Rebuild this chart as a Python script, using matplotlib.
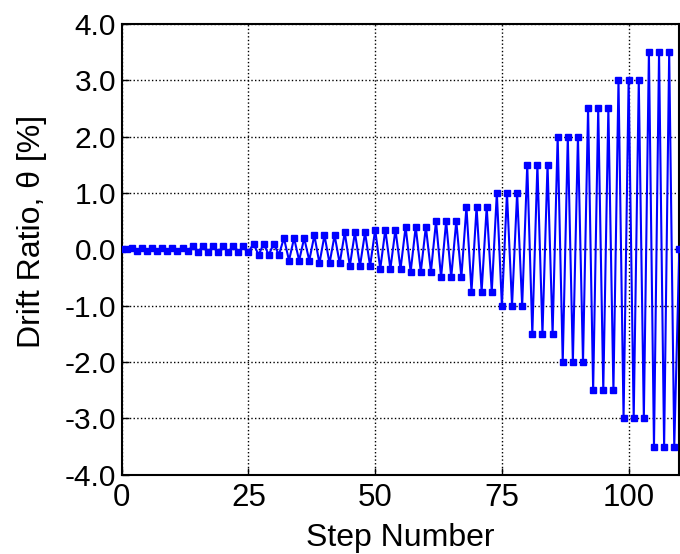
import matplotlib
matplotlib.use("Agg")
import matplotlib.pyplot as plt
import numpy as np

BLUE = "#0000FF"

# drift ratio (%) at each load step (steps 0..110)
drift = [
    0.0, 0.0,
    0.025, -0.025, 0.025, -0.025, 0.025, -0.025,
    0.025, -0.025, 0.025, -0.025, 0.025, -0.025,
    0.05, -0.05, 0.05, -0.05, 0.05, -0.05,
    0.05, -0.05, 0.05, -0.05, 0.05, -0.05,
    0.1, -0.1, 0.1, -0.1, 0.1, -0.1,
    0.2, -0.2, 0.2, -0.2, 0.2, -0.2,
    0.25, -0.25, 0.25, -0.25, 0.25, -0.25,
    0.3, -0.3, 0.3, -0.3, 0.3, -0.3,
    0.35, -0.35, 0.35, -0.35, 0.35, -0.35,
    0.4, -0.4, 0.4, -0.4, 0.4, -0.4,
    0.5, -0.5, 0.5, -0.5, 0.5, -0.5,
    0.75, -0.75, 0.75, -0.75, 0.75, -0.75,
    1.0, -1.0, 1.0, -1.0, 1.0, -1.0,
    1.5, -1.5, 1.5, -1.5, 1.5, -1.5,
    2.0, -2.0, 2.0, -2.0, 2.0, -2.0,
    2.5, -2.5, 2.5, -2.5, 2.5, -2.5,
    3.0, -3.0, 3.0, -3.0, 3.0, -3.0,
    3.5, -3.5, 3.5, -3.5, 3.5, -3.5,
    0.0,
]
steps = list(range(len(drift)))
x_ticks = [0, 25, 50, 75, 100]
y_ticks = [-4, -3, -2, -1, 0, 1, 2, 3, 4]

plt.rcParams.update({
    "font.family": ["Liberation Sans", "DejaVu Sans"],
    "axes.unicode_minus": False,
    "xtick.direction": "in", "ytick.direction": "in",
})

fig = plt.figure(figsize=(6.8, 5.54), dpi=100)
ax = fig.add_axes([0.179, 0.143, 0.82, 0.814])
ax.plot(steps, drift, color=BLUE, lw=1.5, marker="s", ms=3.8, mec=BLUE,
        mfc=BLUE, zorder=3)
ax.set_xlim(0, 110)
ax.set_ylim(-4, 4)
ax.set_xticks(x_ticks)
ax.set_yticks(y_ticks)
ax.set_yticklabels([f"{v:.1f}" for v in y_ticks])
ax.grid(True, color="black", ls=":", lw=1.0)
ax.set_axisbelow(True)
ax.tick_params(axis="x", labelsize=22.5, length=5, width=1, pad=6)
ax.tick_params(axis="y", labelsize=21.5, length=5, width=1, pad=4)
for s in ax.spines.values():
    s.set_linewidth(1.5)
ax.set_xlabel("Step Number", fontsize=23)
ax.set_ylabel("Drift Ratio, θ [%]", fontsize=23)
ax.xaxis.set_label_coords(0.5, -0.107)
ax.yaxis.set_label_coords(-0.134, 0.539)

fig.savefig("out.png", dpi=100)
